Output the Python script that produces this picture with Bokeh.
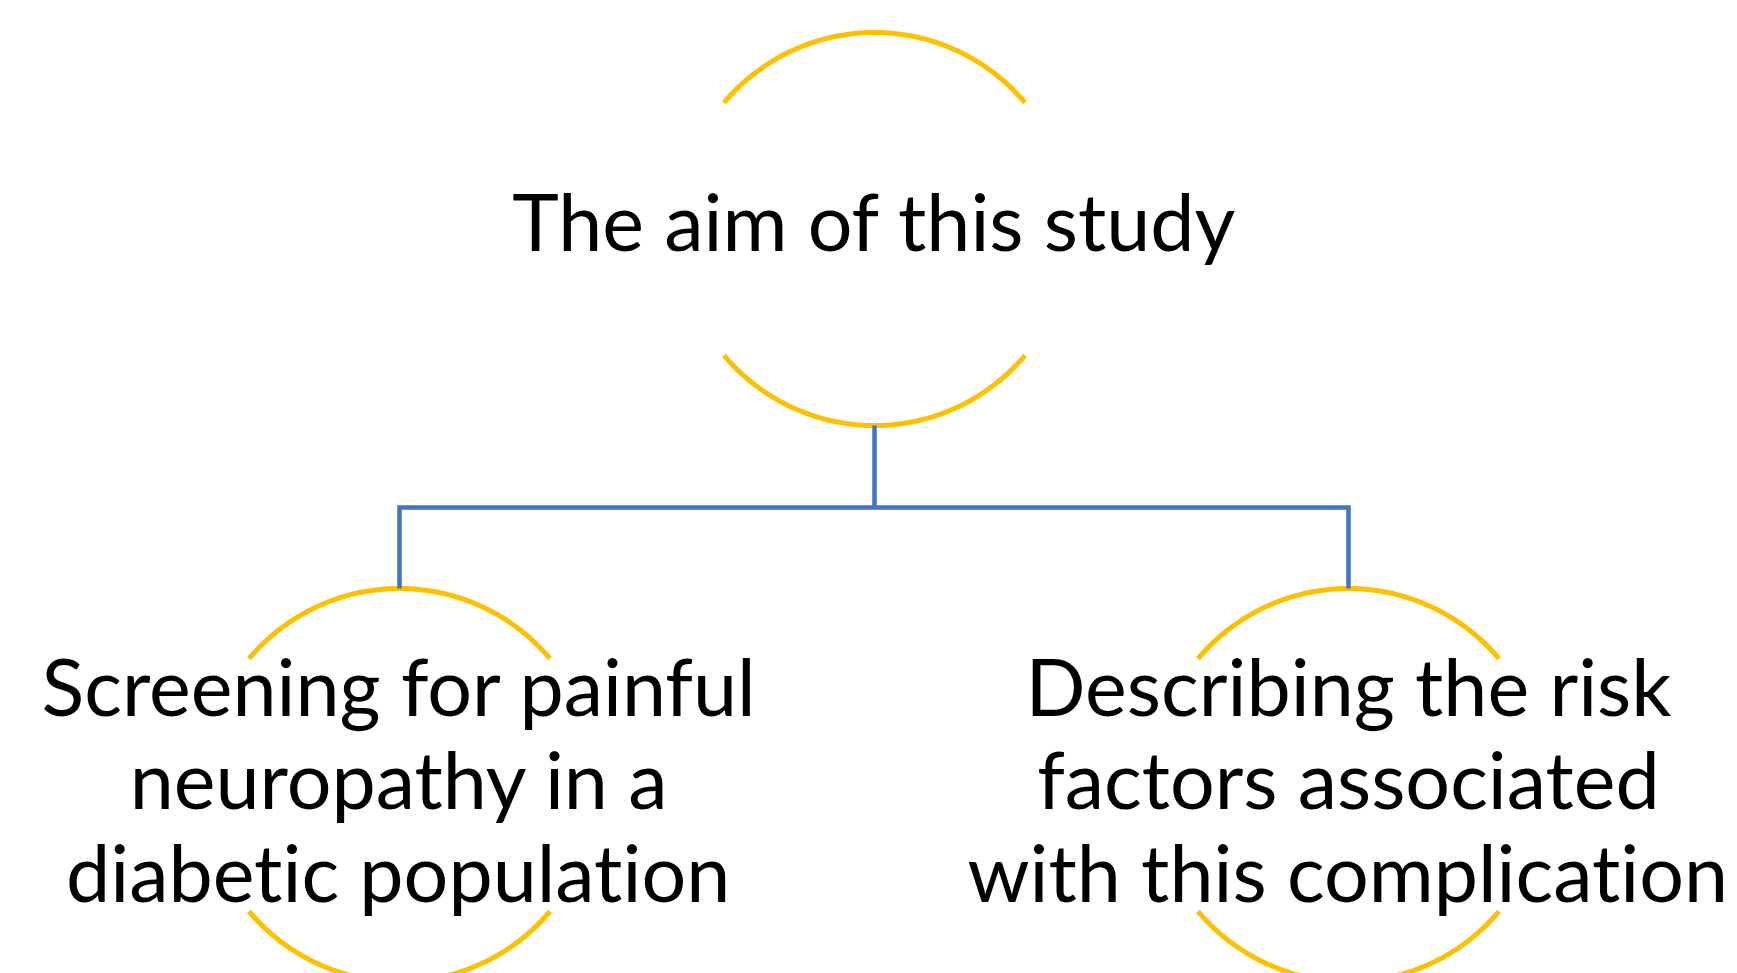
import numpy as np
from bokeh.plotting import figure
from bokeh.models import Range1d, ColumnDataSource, InlineStyleSheet
from bokeh.core.properties import value
from bokeh.embed import file_html
from bokeh.resources import INLINE

# ---- content ----
root_label = ["The aim of this study"]
child_labels = [
    ["Screening for painful", "neuropathy in a", "diabetic population"],
    ["Describing the risk", "factors associated", "with this complication"],
]

# ---- layout (screen pixel coordinates of the page) ----
W, H = 1737, 973
R = 196.5
root_c = (874, 228.5)
child_cx = [399, 1348]
child_cy = 784.5
bus_y = 507
half_span = np.deg2rad(50)
FONT = "Lato"
FS = "79px"
TEXT_SHIFT = 32          # baseline correction for the renderer
root_base = 252
first_base = 717
line_gap = 93
YELLOW = "#FFC000"
BLUE = "#4472C4"

p = figure(width=W, height=H, x_range=Range1d(0, W), y_range=Range1d(H, 0),
           output_backend="svg", toolbar_location=None, min_border=0)
p.axis.visible = False
p.xgrid.visible = False
p.ygrid.visible = False
p.outline_line_color = None
p.background_fill_color = "white"
p.border_fill_color = "white"
p.stylesheets = [InlineStyleSheet(css=":host, :host * , text { font-variant-ligatures: none; "
                                      "font-feature-settings: 'liga' 0, 'clig' 0, 'dlig' 0; }")]


def arcs(cx, cy):
    t = np.linspace(-half_span, half_span, 80)
    top_x = cx + R * np.sin(t)
    top_y = cy - R * np.cos(t)
    bot_x = cx + R * np.sin(t)
    bot_y = cy + R * np.cos(t)
    return [list(top_x), list(bot_x)], [list(top_y), list(bot_y)]


xs, ys = [], []
for cx, cy in [root_c] + [(x, child_cy) for x in child_cx]:
    ax, ay = arcs(cx, cy)
    xs += ax
    ys += ay
p.multi_line(xs, ys, line_color=YELLOW, line_width=5, line_cap="butt")

# connectors
root_bottom = root_c[1] + R
child_top = child_cy - R
p.line([root_c[0], root_c[0]], [root_bottom, bus_y], line_color=BLUE, line_width=4.5)
p.line([child_cx[0], child_cx[0], child_cx[1], child_cx[1]],
       [child_top, bus_y, bus_y, child_top], line_color=BLUE, line_width=4.5, line_join="miter")

# texts
tx, ty, tt = [root_c[0]], [root_base - TEXT_SHIFT], [root_label[0]]
for cx, lines in zip(child_cx, child_labels):
    for i, s in enumerate(lines):
        tx.append(cx)
        ty.append(first_base + i * line_gap - TEXT_SHIFT)
        tt.append(s)
src = ColumnDataSource(dict(x=tx, y=ty, text=tt))
p.text(x="x", y="y", text="text", source=src, text_font=value(FONT), text_font_size=FS,
       text_align="center", text_baseline="alphabetic", text_color="black")

open("out.html", "w").write(file_html(p, INLINE))
